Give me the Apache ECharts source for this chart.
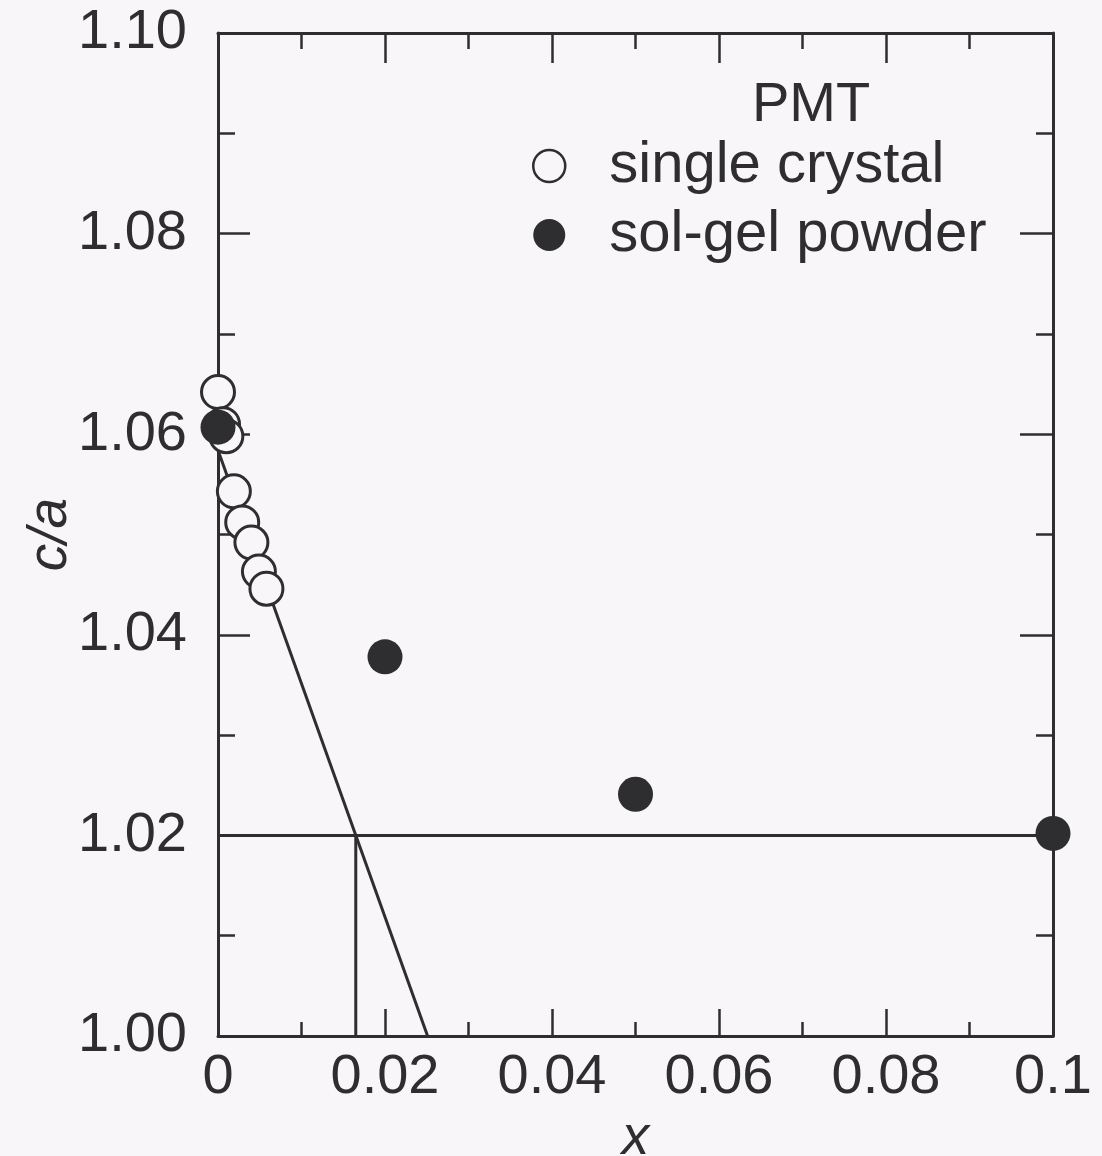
<!DOCTYPE html>
<html>
<head>
<meta charset="utf-8">
<script src="https://cdn.jsdelivr.net/npm/echarts@6/dist/echarts.min.js"></script>
<style>
  html, body { margin: 0; padding: 0; background: #f8f6f8; }
  #chart { width: 1102px; height: 1156px; }
</style>
</head>
<body>
<div id="chart"></div>
<script>
// Lattice tetragonality c/a of PMT versus composition x
const singleCrystalX = [0.0000, 0.0006, 0.0010, 0.0019, 0.0029, 0.0040, 0.0049, 0.0058];
const singleCrystalCA = [1.0642, 1.0610, 1.0598, 1.0543, 1.0512, 1.0492, 1.0463, 1.0446];

const solGelX = [0.0000, 0.0200, 0.0500, 0.1000];
const solGelCA = [1.0607, 1.0378, 1.0241, 1.0202];

// linear fit through the single-crystal points, extended to c/a = 1.00
const fitX = [0.0000, 0.0251];
const fitCA = [1.0584, 1.0000];

// guide lines at c/a = 1.02
const guideLevel = 1.02;
const guideX = 0.0165;

const xTicks = [0, 0.02, 0.04, 0.06, 0.08, 0.1];
const yTicks = [1.00, 1.02, 1.04, 1.06, 1.08, 1.10];

const ink = '#2e2e30';
const paper = '#f8f6f8';
const font = 'Liberation Sans, Arial, Helvetica, sans-serif';

const zip = (xs, ys) => xs.map((x, i) => [x, ys[i]]);

const chart = echarts.init(document.getElementById('chart'), null, { renderer: 'canvas' });

const xFmt = v => {
  const hit = xTicks.find(t => Math.abs(t - v) < 1e-9);
  if (hit === 0) return '0';
  if (hit === 0.1) return '0.1';
  return v.toFixed(2);
};
const yFmt = v => {
  const hit = yTicks.find(t => Math.abs(t - v) < 1e-9);
  return (hit !== undefined ? hit : v).toFixed(2);
};

const axisLineStyle = { show: true, onZero: false, lineStyle: { color: ink, width: 3 } };
const tickStyle = { color: ink, width: 2.5 };

// ticks point inward on all four sides of the frame
const majorTick = len => ({ show: true, inside: true, length: len, lineStyle: tickStyle });
const minorTick = len => ({ show: true, splitNumber: 2, length: len, lineStyle: tickStyle });

const option = {
  backgroundColor: paper,
  animation: false,
  grid: { left: 218, top: 33, width: 835, height: 1003, containLabel: false, outerBoundsMode: 'none' },
  legend: {
    orient: 'vertical',
    left: 532,
    top: 137,
    padding: 0,
    itemWidth: 110,
    itemHeight: 32,
    itemGap: 11,
    symbolKeepAspect: true,
    textStyle: { fontFamily: font, fontSize: 58, color: ink, lineHeight: 57 },
    data: [
      { name: 'single crystal', icon: 'circle', itemStyle: { color: paper, borderColor: ink, borderWidth: 2.5 } },
      { name: 'sol-gel powder', icon: 'circle', itemStyle: { color: ink, borderColor: ink, borderWidth: 0 } }
    ]
  },
  graphic: [
    {
      type: 'text',
      left: 752,
      top: 78,
      style: { text: 'PMT', fontFamily: font, fontSize: 56, fill: ink }
    }
  ],
  xAxis: [
    {
      type: 'value',
      position: 'bottom',
      min: 0, max: 0.1, interval: 0.02,
      name: 'x',
      nameLocation: 'middle',
      nameGap: 67,
      nameTextStyle: { fontFamily: font, fontSize: 55, fontStyle: 'italic', color: ink },
      axisLine: axisLineStyle,
      axisTick: majorTick(27),
      minorTick: minorTick(14),
      splitLine: { show: false },
      axisLabel: { margin: 14, fontFamily: font, fontSize: 56, color: ink, formatter: xFmt }
    },
    {
      type: 'value',
      position: 'top',
      min: 0, max: 0.1, interval: 0.02,
      axisLine: axisLineStyle,
      axisTick: majorTick(30),
      minorTick: minorTick(16),
      splitLine: { show: false },
      axisLabel: { show: false }
    }
  ],
  yAxis: [
    {
      type: 'value',
      position: 'left',
      min: 1.0, max: 1.1, interval: 0.02,
      name: 'c/a',
      nameLocation: 'middle',
      nameGap: 140,
      nameMoveOverlap: false,
      nameRotate: 90,
      nameTextStyle: { fontFamily: font, fontSize: 55, fontStyle: 'italic', color: ink },
      axisLine: axisLineStyle,
      axisTick: majorTick(32),
      minorTick: minorTick(17),
      splitLine: { show: false },
      axisLabel: { margin: 31, fontFamily: font, fontSize: 56, color: ink, formatter: yFmt }
    },
    {
      type: 'value',
      position: 'right',
      min: 1.0, max: 1.1, interval: 0.02,
      axisLine: axisLineStyle,
      axisTick: majorTick(33),
      minorTick: minorTick(17),
      splitLine: { show: false },
      axisLabel: { show: false }
    }
  ],
  series: [
    {
      name: 'fit',
      type: 'line',
      data: zip(fitX, fitCA),
      showSymbol: false,
      symbol: 'none',
      clip: false,
      lineStyle: { color: ink, width: 3 },
      z: 1
    },
    {
      name: 'guide-h',
      type: 'line',
      data: [[0, guideLevel], [0.1, guideLevel]],
      symbol: 'none',
      lineStyle: { color: ink, width: 3 },
      z: 1
    },
    {
      name: 'guide-v',
      type: 'line',
      data: [[guideX, 1.0], [guideX, guideLevel]],
      symbol: 'none',
      lineStyle: { color: ink, width: 3 },
      z: 1
    },
    {
      name: 'single crystal',
      type: 'scatter',
      data: zip(singleCrystalX, singleCrystalCA),
      symbol: 'circle',
      symbolSize: 33,
      clip: false,
      itemStyle: { color: paper, borderColor: ink, borderWidth: 3, opacity: 1 },
      z: 3
    },
    {
      name: 'sol-gel powder',
      type: 'scatter',
      data: zip(solGelX, solGelCA),
      symbol: 'circle',
      symbolSize: 35,
      clip: false,
      itemStyle: { color: ink, opacity: 1 },
      z: 4
    }
  ]
};

chart.setOption(option);
</script>
</body>
</html>
